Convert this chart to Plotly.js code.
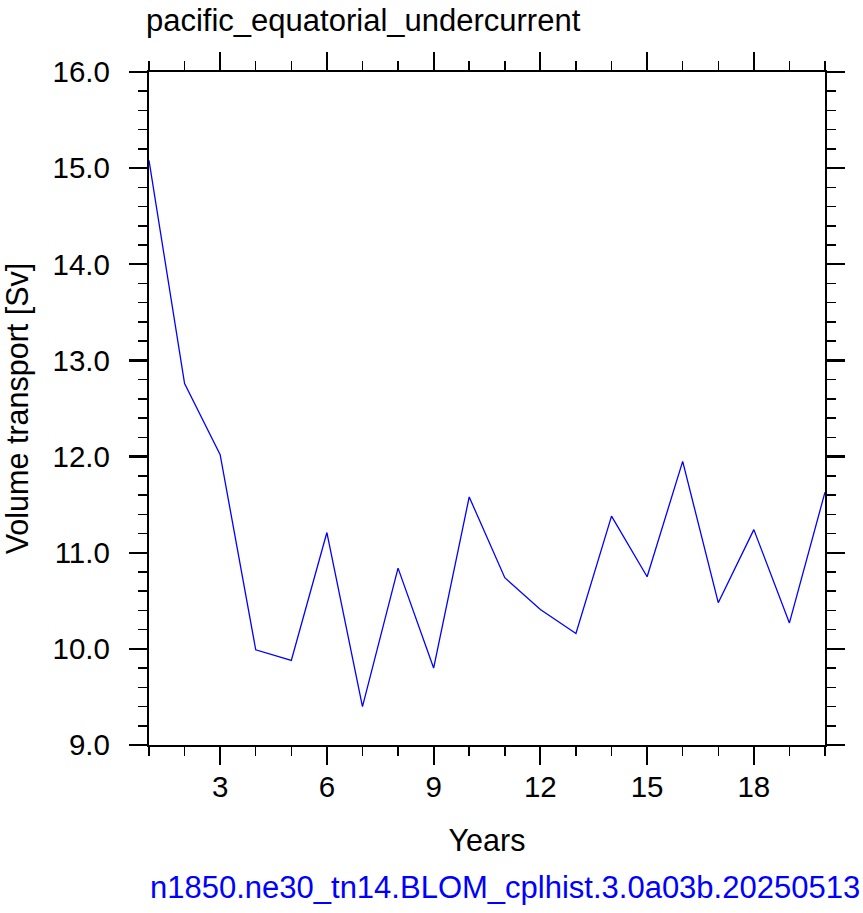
<!DOCTYPE html>
<html>
<head>
<meta charset="utf-8">
<script src="https://cdn.plot.ly/plotly-3.0.1.min.js"></script>
<style>
  html, body { margin: 0; padding: 0; background: #fff; }
  #chart { width: 863px; height: 913px; }
</style>
</head>
<body>
<div id="chart"></div>
<script>
// yearly volume transport
const years = [1, 2, 3, 4, 5, 6, 7, 8, 9, 10, 11, 12, 13, 14, 15, 16, 17, 18, 19, 20];
const transport = [15.08, 12.76, 12.02, 9.99, 9.88, 11.21, 9.40, 10.84, 9.80, 11.58,
                   10.74, 10.41, 10.16, 11.38, 10.75, 11.95, 10.48, 11.24, 10.27, 11.63];
const plotTitle = "pacific_equatorial_undercurrent";
const caseName = "n1850.ne30_tn14.BLOM_cplhist.3.0a03b.20250513";

const font = "Liberation Sans, Arial, Helvetica, sans-serif";

const trace = {
    x: years,
    y: transport,
    type: "scatter",
    mode: "lines",
    line: { color: "#0000ff", width: 1.3 },
    hoverinfo: "skip"
};

const axisBase = {
    showgrid: false,
    zeroline: false,
    showline: true,
    linecolor: "#000",
    linewidth: 2.2,
    mirror: "ticks",
    ticks: "outside",
    ticklen: 18,
    tickwidth: 2.2,
    tickcolor: "#000",
    tickfont: { family: font, size: 29.5, color: "#000" },
    fixedrange: true
};

const layout = {
    width: 863,
    height: 913,
    margin: { l: 149, r: 38, t: 72, b: 168 },
    paper_bgcolor: "#fff",
    plot_bgcolor: "#fff",
    font: { family: font, color: "#000" },
    showlegend: false,
    xaxis: Object.assign({}, axisBase, {
        range: [1, 20],
        tick0: 0,
        dtick: 3,
        ticklabelstandoff: -4,
        minor: { dtick: 1, tick0: 0, ticks: "outside", ticklen: 9, tickwidth: 1.5, tickcolor: "#000" },
        title: { text: "Years", font: { family: font, size: 30.5, color: "#000" }, standoff: 28 }
    }),
    yaxis: Object.assign({}, axisBase, {
        range: [9, 16],
        tick0: 9,
        dtick: 1,
        tickformat: ".1f",
        ticklabelstandoff: 13,
        minor: { dtick: 0.2, tick0: 9, ticks: "outside", ticklen: 9, tickwidth: 1.5, tickcolor: "#000" },
        title: { text: "Volume transport [Sv]", font: { family: font, size: 30.5, color: "#000" }, standoff: 16 }
    }),
    annotations: [
        {
            text: plotTitle,
            xref: "paper", yref: "paper",
            x: 0, y: 1, xanchor: "left", yanchor: "middle",
            xshift: -5, yshift: 52,
            showarrow: false,
            font: { family: font, size: 31, color: "#000" }
        },
        {
            text: caseName,
            xref: "paper", yref: "paper",
            x: 1, y: 0, xanchor: "right", yanchor: "middle",
            xshift: 37, yshift: -142,
            showarrow: false,
            font: { family: font, size: 31, color: "#0000ff" }
        }
    ]
};

Plotly.newPlot("chart", [trace], layout, { displayModeBar: false, staticPlot: true });
</script>
</body>
</html>
